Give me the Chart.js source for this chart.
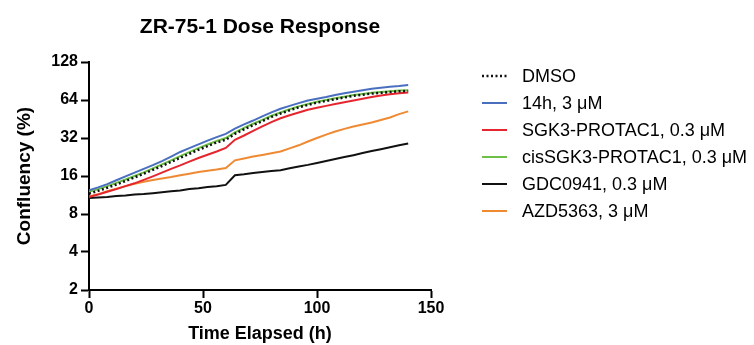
<!DOCTYPE html>
<html>
<head>
<meta charset="utf-8">
<script src="https://cdn.jsdelivr.net/npm/chart.js@4.4.1/dist/chart.umd.min.js"></script>
<style>
html,body{margin:0;padding:0;background:#fff;}
canvas{display:block;}
</style>
</head>
<body>
<canvas id="c" width="754" height="345"></canvas>
<script>
const chartTitle = "ZR-75-1 Dose Response";
const xTitle = "Time Elapsed (h)";
const yTitle = "Confluency (%)";
const yTicks = [2, 4, 8, 16, 32, 64, 128];
const xTicks = [0, 50, 100, 150];
const seriesNames = ["DMSO", "14h, 3 μM", "SGK3-PROTAC1, 0.3 μM", "cisSGK3-PROTAC1, 0.3 μM", "GDC0941, 0.3 μM", "AZD5363, 3 μM"];
const seriesColors = ["#111111", "#4a6fbf", "#e5262e", "#6cbf47", "#111111", "#ef8a33"];
const times = [0,4,8,12,16,20,24,28,32,36,40,44,48,52,56,60,64,68,72,76,80,84,88,92,96,100,104,108,112,116,120,124,128,132,136,140];
const dmso  = [11.6,12.2,12.9,13.7,14.6,15.6,16.7,17.9,19.2,20.7,22.3,24.0,25.8,27.6,29.5,31.0,34.5,37.5,40.5,43.5,47.0,50.0,53.0,56.0,58.5,61.0,63.0,65.0,67.0,69.0,70.5,72.0,73.0,74.0,75.0,75.5];
const h14   = [12.3,13.0,13.8,14.8,15.9,17.0,18.2,19.5,21.0,22.8,24.8,26.6,28.5,30.5,32.5,34.5,38.0,41.0,44.0,47.5,51.0,54.6,57.5,60.5,63.5,65.5,67.5,70.0,72.5,74.5,76.5,78.5,80.0,81.5,82.5,84.0];
const sgk3  = [10.9,11.4,12.0,12.6,13.3,14.0,14.9,15.9,17.0,18.2,19.4,20.8,22.2,23.6,25.0,26.7,31.0,33.5,36.5,39.5,42.8,45.9,48.5,51.0,53.5,55.5,57.5,59.5,61.5,63.5,65.5,67.5,69.5,71.0,72.5,73.5];
const cisSgk3 = [12.0,12.6,13.3,14.1,15.0,16.0,17.1,18.4,19.8,21.3,23.0,24.7,26.6,28.4,30.3,32.0,35.5,38.5,41.5,44.5,48.0,51.0,54.0,57.0,59.5,62.0,64.0,66.0,68.0,70.0,71.5,73.0,74.0,75.0,76.0,76.5];
const gdc   = [10.7,10.8,10.9,11.1,11.2,11.4,11.5,11.7,11.9,12.1,12.3,12.6,12.8,13.1,13.3,13.6,16.2,16.5,16.9,17.2,17.5,17.8,18.4,19.0,19.6,20.3,21.0,21.8,22.6,23.4,24.3,25.2,26.1,27.0,28.0,29.0];
const azd   = [11.0,11.5,12.1,12.7,13.3,13.9,14.4,14.9,15.3,15.7,16.2,16.7,17.2,17.6,18.0,18.5,21.3,22.0,22.8,23.5,24.2,25.0,26.5,28.0,30.0,32.0,34.0,36.0,37.8,39.5,41.0,42.5,44.5,46.5,49.5,52.0];
const seriesValues = [dmso, h14, sgk3, cisSgk3, gdc, azd];

const FONT = "'Liberation Sans', Arial, Helvetica, sans-serif";

const datasets = seriesNames.map((name, i) => ({
  label: name,
  data: times.map((t, k) => ({x: t, y: seriesValues[i][k]})),
  borderColor: seriesColors[i],
  backgroundColor: seriesColors[i],
  borderWidth: i === 0 ? 2.5 : 2,
  borderDash: i === 0 ? [2, 2.5] : [],
  pointRadius: 0,
  tension: 0,
  fill: false
}));

const decor = {
  id: 'decor',
  afterDraw(chart) {
    const ctx = chart.ctx;
    const area = chart.chartArea;
    ctx.save();
    ctx.fillStyle = '#000';
    ctx.font = "bold 21px " + FONT;
    ctx.textAlign = 'center';
    ctx.textBaseline = 'alphabetic';
    ctx.fillText(chartTitle, (area.left + area.right) / 2, 33);
    ctx.font = "bold 18px " + FONT;
    ctx.fillText(xTitle, (area.left + area.right) / 2, 339);
    ctx.save();
    ctx.translate(30, (area.top + area.bottom) / 2);
    ctx.rotate(-Math.PI / 2);
    ctx.font = "bold 19px " + FONT;
    ctx.fillText(yTitle, 0, 0);
    ctx.restore();
    ctx.font = "18px " + FONT;
    ctx.textAlign = 'left';
    ctx.textBaseline = 'middle';
    chart.data.datasets.forEach((ds, i) => {
      const y = 76 + i * 27;
      ctx.save();
      ctx.strokeStyle = ds.borderColor;
      ctx.lineWidth = ds.borderWidth;
      ctx.setLineDash(ds.borderDash || []);
      ctx.beginPath();
      ctx.moveTo(482, y);
      ctx.lineTo(507, y);
      ctx.stroke();
      ctx.restore();
      ctx.fillStyle = '#000';
      ctx.fillText(ds.label, 522, y + 1);
    });
    ctx.restore();
  }
};

new Chart(document.getElementById('c'), {
  type: 'line',
  data: { datasets },
  options: {
    responsive: false,
    animation: false,
    devicePixelRatio: 1,
    layout: { padding: { top: 62, right: 323, left: 0, bottom: 0 } },
    plugins: { legend: { display: false }, title: { display: false }, tooltip: { enabled: false } },
    scales: {
      x: {
        type: 'linear',
        min: 0, max: 150,
        afterBuildTicks: s => { s.ticks = xTicks.map(v => ({value: v})); },
        afterFit: s => { s.height = 55; },
        ticks: { color: '#000', font: { family: FONT, size: 16, weight: 'bold' }, padding: 1, maxRotation: 0 },
        grid: { display: true, drawOnChartArea: false, drawTicks: true, tickLength: 8, tickWidth: 2, tickColor: '#000' },
        border: { display: true, color: '#000', width: 2 }
      },
      y: {
        type: 'logarithmic',
        min: 2, max: 128,
        afterBuildTicks: s => { s.ticks = yTicks.map(v => ({value: v})); },
        afterFit: s => { s.width = 89; },
        ticks: { color: '#000', font: { family: FONT, size: 16, weight: 'bold' }, padding: 3, callback: v => String(v) },
        grid: { display: true, drawOnChartArea: false, drawTicks: true, tickLength: 8, tickWidth: 2, tickColor: '#000' },
        border: { display: true, color: '#000', width: 2 }
      }
    }
  },
  plugins: [decor]
});
</script>
</body>
</html>
